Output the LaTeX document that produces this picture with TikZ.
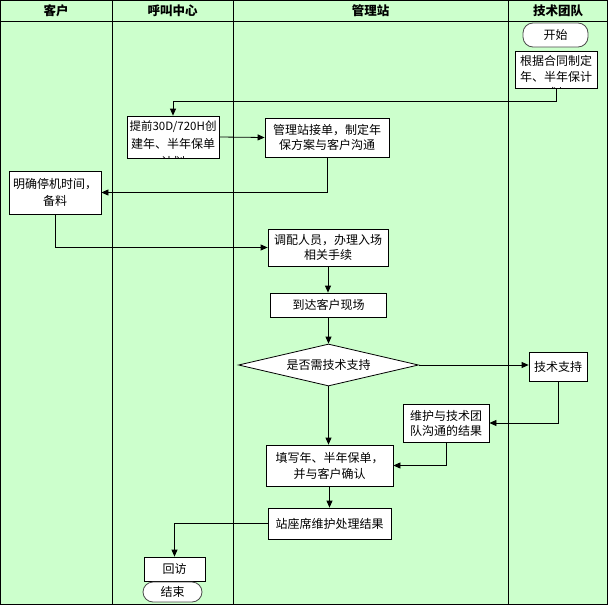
\documentclass[tikz,border=0pt]{standalone}
\usepackage{fontspec}
\setmainfont{Noto Sans CJK SC}
\usepackage{xcolor}
\usepackage{tikz}
\usetikzlibrary{arrows.meta}
\usetikzlibrary{shapes.geometric}
\definecolor{lanegreen}{RGB}{204,255,204}

\begin{document}
\begin{tikzpicture}[x=1pt,y=-1pt,font=\fontsize{12}{15}\selectfont,
  box/.style={draw,fill=white,inner sep=0pt,align=center,line width=0.8pt},
  ends/.style={box,draw=black!70,rounded corners=10pt},
  clipbox/.style={box,path picture={\node[anchor=north,inner sep=0pt,align=center]
      at ([yshift=-4pt]path picture bounding box.north) {#1};}},
  arr/.style={-{Triangle[length=7pt,width=6pt]},line width=0.8pt},
  lane/.style={line width=0.8pt},
  head/.style={font=\bfseries\fontsize{12.5}{15}\selectfont}]
\useasboundingbox (0,0) rectangle (608,605);
\fill[lanegreen] (0,0) rectangle (608,605);
% lanes
\draw[lane] (0.4,0.4) rectangle (607.6,604);
\draw[lane] (0,21) -- (608,21);
\draw[lane] (112,0) -- (112,604);
\draw[lane] (233,0) -- (233,604);
\draw[lane] (508,0) -- (508,604);
\node[head] (h1) at (56,10.5) {客户};
\node[head] (h2) at (172.5,10.5) {呼叫中心};
\node[head] (h3) at (370.5,10.5) {管理站};
\node[head] (h4) at (558,10.5) {技术团队};
% steps
\node[ends,minimum width=65pt,minimum height=24pt] (S) at (555.5,35) {开始};
\node[clipbox={根据合同制定\\[1pt]年、半年保计\\[1pt]划},minimum width=82pt,minimum height=37pt] (P) at (556,69.5) {};
\node[clipbox={\fontsize{11.5}{15}\selectfont 提前30D/720H创\\[3pt]建年、半年保单\\[3pt]计划},minimum width=92pt,minimum height=42pt] (C) at (173,137) {};
\node[box,minimum width=124pt,minimum height=39pt] (M) at (327,137.5) {管理站接单，制定年\\保方案与客户沟通};
\node[box,minimum width=92pt,minimum height=43pt] (K) at (55,192.5) {明确停机时间，\\[2pt]备料};
\node[box,minimum width=120pt,minimum height=37pt] (T) at (328,247.5) {调配人员，办理入场\\相关手续};
\node[box,minimum width=116pt,minimum height=24pt] (D) at (328.5,305) {到达客户现场};
\node[box,diamond,shape aspect=4.3,minimum width=180pt,minimum height=42pt] (Q) at (328.5,365) {是否需技术支持};
\node[box,minimum width=58pt,minimum height=29pt] (J) at (558,366.5) {技术支持};
\node[box,minimum width=86pt,minimum height=38pt] (W) at (446,423) {维护与技术团\\队沟通的结果};
\node[box,minimum width=127pt,minimum height=41pt] (F) at (329.5,465.5) {填写年、半年保单，\\[1pt]并与客户确认};
\node[box,minimum width=123pt,minimum height=31pt] (Z) at (329.5,523.5) {站座席维护处理结果};
\node[box,minimum width=61pt,minimum height=24pt] (H) at (174.5,569) {回访};
\node[ends,minimum width=59pt,minimum height=20pt] (E) at (172.5,592) {结束};
% flow
\draw[arr] (P.south) -- ++(0,13) -| (C.north);
\draw[arr] (C.east) -- (M.west);
\draw[arr] (M.south) |- (K.east);
\draw[arr] (K.south) |- (T.west);
\draw[arr] (T.south) -- (T.south |- D.north);
\draw[arr] (D.south) -- (Q.north);
\draw[arr] (Q.east) -- (Q.east -| J.west);
\draw[arr] (J.south) |- (W.east);
\draw[arr] (Q.south) -- (Q.south |- F.north);
\draw[arr] (W.south) |- (F.east);
\draw[arr] (F.south) -- (F.south |- Z.north);
\draw[arr] (Z.west) -| (H.north);
\end{tikzpicture}
\end{document}
